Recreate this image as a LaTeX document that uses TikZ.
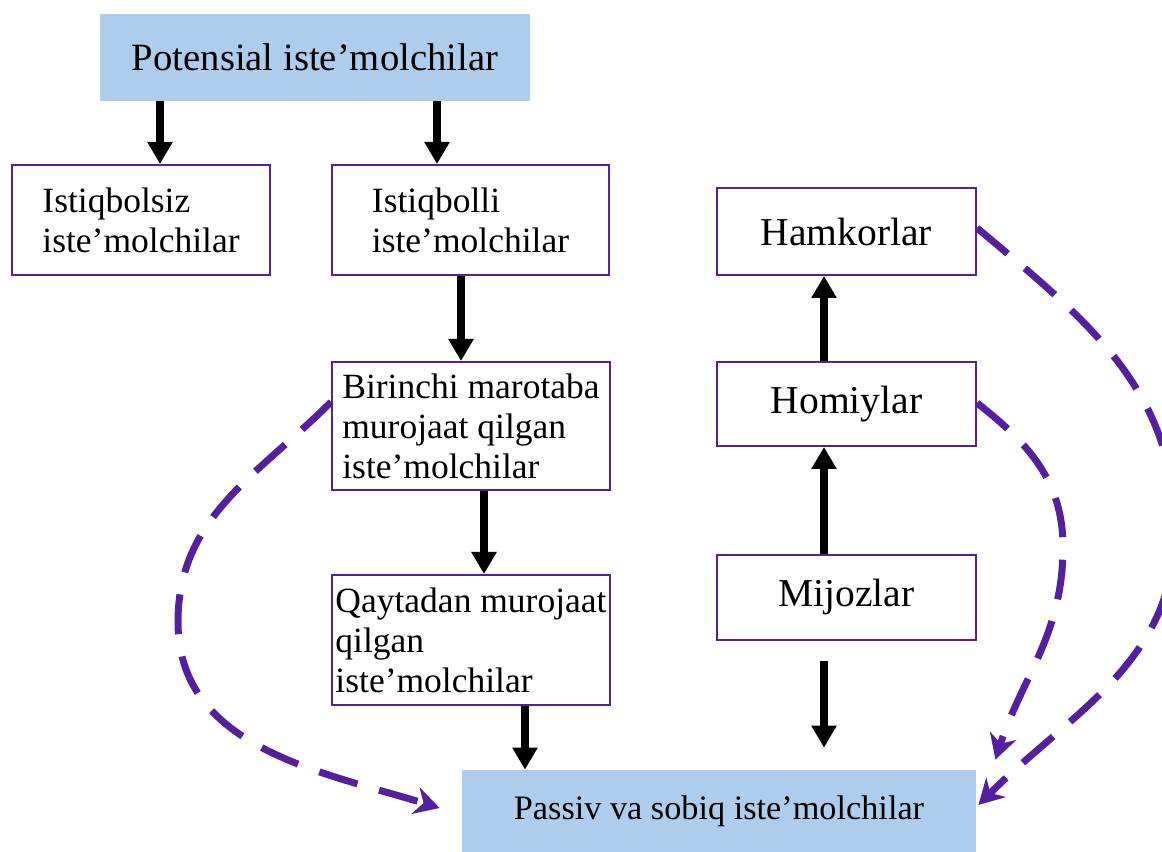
\documentclass[tikz,border=0pt]{standalone}
\usepackage{fontspec}
\setmainfont{Liberation Serif}
\usetikzlibrary{arrows.meta}
\definecolor{boxblue}{HTML}{ADCDEA}
\definecolor{linkviolet}{HTML}{5520A0}

\begin{document}
\begin{tikzpicture}[
		box_style/.style={rectangle,draw=linkviolet,line width=0.4mm,fill=white,inner sep=2pt,align=left,font=\fontsize{20.2}{22.7}\selectfont},
		big_style/.style={box_style,font=\fontsize{22.5}{24}\selectfont},
		blue_style/.style={rectangle,fill=boxblue,inner sep=2pt},
		edge_style/.style={draw=black,line width=1.7mm,-{Triangle[width=4.8mm,length=4.4mm]}},
		dash_style/.style={draw=linkviolet,line width=1.4mm,dash pattern=on 8mm off 4.5mm,-{Stealth[width=5.5mm,length=5mm]}}]

		\useasboundingbox (0,0) rectangle (23.24,17.04);

		\node[blue_style,minimum width=8.6cm,minimum height=1.74cm,font=\fontsize{22}{24}\selectfont] (n0) at (6.30,15.89) {Potensial iste’molchilar};
		\node[box_style,minimum width=5.16cm,minimum height=2.2cm] (n1) at (2.82,12.64) {Istiqbolsiz\\iste’molchilar};
		\node[box_style,minimum width=5.54cm,minimum height=2.2cm] (n2) at (9.41,12.64) {Istiqbolli\\iste’molchilar};
		\node[box_style,minimum width=5.56cm,minimum height=2.56cm] (n3) at (9.42,8.52) {Birinchi marotaba\\murojaat qilgan\\iste’molchilar};
		\node[box_style,minimum width=5.56cm,minimum height=2.6cm] (n4) at (9.42,4.24) {Qaytadan murojaat\\qilgan\\iste’molchilar};
		\node[big_style,minimum width=5.18cm,minimum height=1.74cm] (n5) at (16.93,12.41) {Hamkorlar};
		\node[big_style,minimum width=5.18cm,minimum height=1.68cm] (n6) at (16.93,8.96) {Homiylar};
		\node[big_style,minimum width=5.18cm,minimum height=1.7cm] (n7) at (16.93,5.09) {Mijozlar};
		\node[blue_style,minimum width=10.28cm,minimum height=1.64cm,font=\fontsize{19.5}{22}\selectfont] (n8) at (14.38,0.82) {Passiv va sobiq iste’molchilar};

		\coordinate (c1) at (3.56,4.6);
		\coordinate (e1) at ([xshift=-0.44cm,yshift=0.06cm]n8.west);
		\coordinate (c2) at (21.26,6.1);
		\coordinate (e2) at ([xshift=0.38cm,yshift=0.2cm]n8.north east);
		\coordinate (c3) at (23.5,6.44);
		\coordinate (e3) at ([xshift=0.04cm,yshift=0.12cm]n8.east);

		\draw[edge_style] ([xshift=0.38cm]n1.north |- n0.south) -- ([xshift=0.38cm]n1.north);
		\draw[edge_style] ([xshift=-0.67cm]n2.north |- n0.south) -- ([xshift=-0.67cm]n2.north);
		\draw[edge_style] ([xshift=-0.19cm]n2.south) -- ([xshift=-0.19cm]n2.south |- n3.north);
		\draw[edge_style] ([xshift=0.26cm]n3.south) -- ([xshift=0.26cm]n3.south |- n4.north);
		\draw[edge_style] ([xshift=1.08cm]n4.south) -- ([xshift=1.08cm]n4.south |- n8.north);
		\draw[edge_style] ([xshift=-0.45cm]n7.north) -- ([xshift=-0.45cm]n6.south);
		\draw[edge_style] ([xshift=-0.45cm]n6.north) -- ([xshift=-0.45cm]n5.south);
		\draw[edge_style] ([xshift=-0.45cm,yshift=-0.4cm]n7.south) -- ([xshift=-0.45cm,yshift=0.44cm]n7.south |- n8.north);

		\draw[dash_style] ([yshift=0.48cm]n3.west) to[out=-135,in=90] (c1) to[out=-90,in=163] (e1);
		\draw[dash_style] ([yshift=0.02cm]n6.east) to[out=-38,in=90] (c2) to[out=-90,in=72] (e2);
		\draw[dash_style] ([yshift=0.07cm]n5.east) to[out=-40,in=90] (c3) to[out=-90,in=45] (e3);
\end{tikzpicture}
\end{document}
